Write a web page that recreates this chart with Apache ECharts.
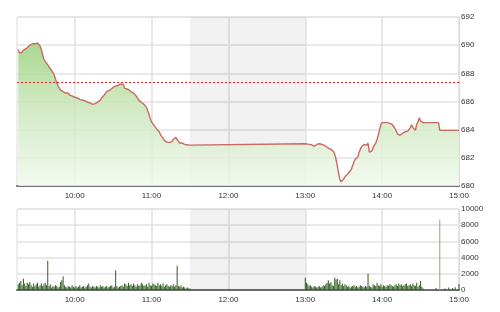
<!DOCTYPE html>
<html><head><meta charset="utf-8">
<script src="https://cdn.jsdelivr.net/npm/echarts@6/dist/echarts.min.js"></script>
<style>html,body{margin:0;padding:0;background:#fff}#c{width:500px;height:312px}</style>
</head><body><div id="c"></div>
<script>
// ---- data (time = minutes since midnight) ----
const priceTimes = [556,557,558,559,560,562,563,565,566,567,568,569,570,571,572,573,574,575,576,577,578,579,580,581,582,583,584,585,586,587,588,589,590,591,592,593,594,595,596,597,598,599,600,602,604,606,608,610,612,614,615,616,617,618,620,621,622,623,624,625,626,628,630,632,634,636,637,638,639,640,642,644,646,648,649,650,651,652,654,655,656,657,658,659,660,661,662,663,664,665,666,667,668,669,670,671,672,673,674,675,676,677,678,679,680,681,682,683,684,685,686,687,690,
  780,782,785,787,788,790,792,793,795,797,798,800,802,803,804,805,806,807,808,809,810,811,812,813,814,815,816,817,818,819,820,821,822,823,824,825,826,827,828,829,830,831,832,833,834,835,836,837,838,839,840,841,842,844,846,847,848,849,850,851,852,853,854,855,856,857,858,859,860,861,862,863,864,865,866,867,868,869,870,871,872,884,885,900];
const priceValues = [689.7,689.45,689.35,689.5,689.65,689.75,689.85,690.0,690.05,690.1,690.2,690.1,690.2,690.15,690.1,689.95,689.7,689.3,689.0,688.85,688.75,688.6,688.45,688.35,688.2,688.05,687.9,687.6,687.35,687.1,686.95,686.8,686.85,686.7,686.75,686.6,686.55,686.6,686.45,686.5,686.4,686.35,686.3,686.25,686.15,686.1,686.05,685.95,685.9,685.8,685.75,685.85,685.8,685.95,686.1,686.25,686.35,686.45,686.5,686.7,686.75,686.85,687.0,687.1,687.15,687.25,687.35,687.2,686.95,686.9,686.85,686.7,686.6,686.4,686.25,686.1,686.1,685.95,685.8,685.75,685.6,685.55,685.1,684.8,684.55,684.45,684.3,684.2,684.05,683.95,683.85,683.65,683.5,683.4,683.25,683.15,683.1,683.05,683.1,683.2,683.15,683.3,683.35,683.45,683.3,683.2,683.05,683.0,683.05,682.95,682.95,682.9,682.9,
  683.0,682.97,682.93,682.82,682.9,683.0,682.98,683.02,682.88,682.75,682.72,682.6,682.45,682.25,681.9,681.45,680.9,680.45,680.3,680.35,680.5,680.65,680.6,680.85,680.95,681.05,681.2,681.3,681.7,681.9,681.95,682.05,682.4,682.6,682.8,682.9,682.95,682.85,682.9,683.05,682.4,682.45,682.5,682.75,682.9,683.05,683.3,683.6,684.0,684.35,684.5,684.55,684.5,684.5,684.45,684.4,684.35,684.25,684.1,683.9,683.7,683.6,683.6,683.7,683.75,683.8,683.85,683.9,683.9,684.0,684.15,684.35,684.15,684.05,683.95,684.4,684.55,684.85,684.6,684.55,684.5,684.5,683.95,683.95];
const refPrice = 687.35;
const lunchStart = 690, lunchEnd = 780;
const hourTicks = [600,660,720,780,840,900];
const morningVolStart = 556;
const morningVol = [700,900,1100,600,1400,800,500,900,700,1000,
  600,400,800,500,700,900,400,600,800,500,
  700,900,600,3600,500,700,300,500,400,600,
  500,300,400,1000,1200,1700,600,400,300,500,
  400,300,600,400,300,500,300,400,600,300,
  400,500,300,400,600,800,400,300,500,400,
  300,500,400,300,600,400,500,300,400,500,
  300,400,500,600,300,400,2400,500,300,400,
  500,600,400,800,700,500,900,600,700,500,
  800,600,400,700,500,600,900,700,500,600,
  700,400,900,600,500,800,700,600,500,900,
  600,700,500,800,400,600,700,500,400,600,
  500,700,400,600,3000,500,400,600,300,400,
  300,200,300,200,200];
const afternoonVolStart = 780;
const afternoonVol = [1500,900,700,500,600,400,300,500,400,300,
  400,500,300,400,600,500,700,900,1200,800,
  1000,600,500,1500,1300,1400,700,1200,600,800,
  500,700,600,400,500,300,400,500,600,400,
  500,300,400,600,500,400,300,500,400,2000,
  500,400,300,700,600,500,900,600,500,700,
  400,600,500,400,600,500,700,600,500,400,
  600,700,500,800,600,700,500,600,700,800,
  500,600,700,500,800,600,500,900,400,600,
  1100,400,200];
const closeVolTimes = [882,885,889,892,895,897,900];
const closeVol = [250,8700,200,300,250,350,750];
const yTicksTop = [680,692,2];
const yTicksBottom = [0,10000,2000];

// ---- build ----
const priceData = priceTimes.map((t,i)=>[t,priceValues[i]]);
const volData = [];
morningVol.forEach((v,i)=>volData.push([morningVolStart+i,v]));
afternoonVol.forEach((v,i)=>volData.push([afternoonVolStart+i,v]));
closeVol.forEach((v,i)=>volData.push([closeVolTimes[i],v]));

const font = 'Liberation Sans, Arial, sans-serif';
function xAxis(gi){
  return {type:'value', gridIndex:gi, min:555, max:900,
    axisLine:{show:true,onZero:false,lineStyle:{color:'#6e6e6e',width:2}},
    axisTick:{show:false, customValues:hourTicks},
    axisLabel:{fontSize:8,color:'#333',fontFamily:font,margin:6,customValues:hourTicks,
      formatter:v=> (v/60)+':00'},
    splitLine:{show:true,lineStyle:{color:'#e2e2e2',width:1.5}}};
}
function yAxis(gi,t){
  return {type:'value', gridIndex:gi, position:'right', min:t[0], max:t[1], interval:t[2],
    axisLine:{show:true,lineStyle:{color:'#dcdcdc'}},
    axisTick:{show:false},
    axisLabel:{fontSize:8,color:'#333',fontFamily:font,margin:2,formatter:v=>String(v)},
    splitLine:{show:true,lineStyle:{color:'#e2e2e2',width:1.5}}};
}
const lunchArea = {silent:true, itemStyle:{color:'rgba(0,0,0,0.055)'}, data:[[{xAxis:lunchStart},{xAxis:lunchEnd}]]};

const chart = echarts.init(document.getElementById('c'),null,{renderer:'canvas'});
chart.setOption({
  animation:false,
  backgroundColor:'#fff',
  grid:[
    {left:17,right:41,top:17,height:169,show:true,borderColor:'#dcdcdc',borderWidth:1},
    {left:17,right:41,top:209,height:81,show:true,borderColor:'#dcdcdc',borderWidth:1}
  ],
  xAxis:[xAxis(0),xAxis(1)],
  yAxis:[yAxis(0,yTicksTop),yAxis(1,yTicksBottom)],
  series:[
    {type:'line',xAxisIndex:0,yAxisIndex:0,data:priceData,showSymbol:false,
      lineStyle:{color:'#c86a64',width:1.4},
      areaStyle:{origin:'start',opacity:0.85,color:{type:'linear',x:0,y:40,x2:0,y2:187,global:true,
        colorStops:[{offset:0,color:'#98d07a'},{offset:0.45,color:'#c9e6b8'},{offset:1,color:'#f3f9ef'}]}},
      markArea:lunchArea,
      markLine:{silent:true,symbol:'none',label:{show:false},
        lineStyle:{color:'#e02020',type:[2,2],width:1.2},data:[{yAxis:refPrice}]}},
    {type:'bar',xAxisIndex:1,yAxisIndex:1,data:volData,barWidth:1,
      itemStyle:{color:p=> p.value[1]>5000?'#86ad78':'#2e5e1e'},
      markArea:lunchArea}
  ]
});
</script></body></html>
